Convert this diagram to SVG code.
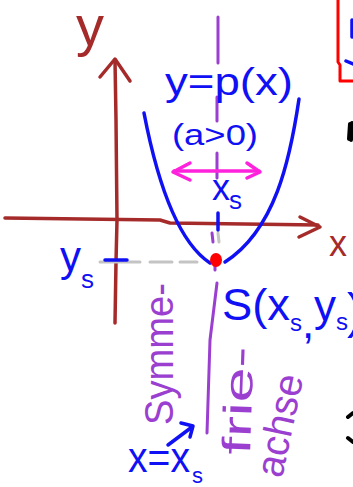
<svg xmlns="http://www.w3.org/2000/svg" width="353" height="487" viewBox="0 0 353 487">
<style>
  .ax{fill:none;stroke:#a52a2a;stroke-width:3.5;stroke-linecap:round;stroke-linejoin:round}
  .bl{fill:none;stroke:#1010f5;stroke-width:3.5;stroke-linecap:round;stroke-linejoin:round}
  .pu{fill:none;stroke:#9b3fd0;stroke-width:3;stroke-linecap:round;stroke-linejoin:round}
  .mg{fill:none;stroke:#ff22dd;stroke-width:3.5;stroke-linecap:round;stroke-linejoin:round}
  .gr{fill:none;stroke:#c4c4c4;stroke-width:3;stroke-linecap:round}
  .rd{fill:none;stroke:#ff0000;stroke-width:3;stroke-linejoin:round}
  .bk{fill:none;stroke:#000000;stroke-width:4;stroke-linecap:round}
  .t{font-family:"Liberation Sans","DejaVu Sans",sans-serif}
  .tb{fill:#1010f5}
  .tp{fill:#9b3fd0}
  .tr{fill:#a52a2a}
</style>
<rect width="353" height="487" fill="#ffffff"/>

<g id="connectors">
  <!-- y axis -->
  <path class="ax" d="M115,60 L116,120 L117,220 L116,262 L115,323"/>
  <path class="ax" d="M100,77 L115,59 L130,81"/>
  <!-- x axis -->
  <path class="ax" d="M5,218 L160,220 L170,223 L318,225"/>
  <path class="ax" d="M300,217 L320,227 L299,237"/>
  <!-- symmetry axis -->
  <path class="pu" d="M218,17 L218,63"/>
  <path class="pu" d="M217,97 L217,121"/>
  <path class="pu" d="M217,153 L217,178"/>
  <path class="pu" d="M212,233 L213,242"/>
  <path class="pu" d="M215,263 L215,270"/>
  <path class="pu" d="M217,283 L210,340 L207,433"/>
  <path class="gr" d="M218,233 L219,242"/>
  <!-- blue xs marker on x axis -->
  <path class="bl" d="M218,213 L218,230"/>
  <!-- grey dashed helper -->
  <path class="gr" d="M100,262 L140,262 M150,262 L172,262 M180,262 L197,262"/>
  <!-- blue ys tick -->
  <path class="bl" d="M105,260 L127,260"/>
  <!-- magenta double arrow -->
  <path class="mg" d="M174,171 L259,171"/>
  <path class="mg" d="M190,163 L173,172 L190,180"/>
  <path class="mg" d="M247,163 L260,172 L247,178"/>
  <!-- blue arrow to axis -->
  <path class="bl" d="M168,445 L192,427"/>
  <path class="bl" d="M181,423 L193,426 L190,437"/>
  <!-- red box fragment -->
  <path class="rd" d="M338,0 L338,62 L340,65 L340,81 L353,81"/>
  <!-- blue fragments inside box -->
  <path class="bl" d="M352,20 L352,37 M346,61 L353,64"/>
  <!-- black fragments -->
  <path class="bk" d="M350,124 L349,139 M352,123 L351,140"/>
  <path class="bk" d="M348,417 L353,413 M348,438 L353,442"/>
</g>

<g id="parabola">
  <path class="bl" d="M144,113 C155,170 175,240 210,263"/>
  <path class="bl" d="M299,99 C290,160 275,230 225,262"/>
</g>

<g id="vertex">
  <ellipse cx="216" cy="260" rx="6" ry="7" fill="#ff0000"/>
</g>

<g id="label-y-axis">
  <text class="t tr" x="76" y="45" font-size="56" textLength="28" lengthAdjust="spacingAndGlyphs">y</text>
</g>
<g id="label-x-axis">
  <text class="t tr" x="329" y="256" font-size="36">x</text>
</g>

<g id="label-function">
  <text class="t tb" x="165" y="95" font-size="38" textLength="128" lengthAdjust="spacingAndGlyphs">y=p(x)</text>
  <text class="t tb" x="172" y="145" font-size="30" textLength="86" lengthAdjust="spacingAndGlyphs">(a&gt;0)</text>
</g>

<g id="label-xs">
  <text class="t tb"><tspan x="212" y="200" font-size="36">x</tspan><tspan x="229" y="209" font-size="26">s</tspan></text>
</g>

<g id="label-ys">
  <text class="t tb"><tspan x="60" y="271" font-size="42">y</tspan><tspan x="81" y="288" font-size="26">s</tspan></text>
</g>

<g id="label-vertex">
  <text class="t tb"><tspan x="222" y="320" font-size="44" textLength="68" lengthAdjust="spacingAndGlyphs">S(x</tspan><tspan x="290" y="331" font-size="24">s</tspan><tspan x="302" y="338" font-size="44">,</tspan><tspan x="314" y="321" font-size="44">y</tspan><tspan x="336" y="330" font-size="24">s</tspan><tspan x="347" y="328" font-size="50">)</tspan></text>
</g>

<g id="label-symmetry">
  <text class="t tp" font-size="40" transform="translate(173,425) rotate(-90)" textLength="142" lengthAdjust="spacingAndGlyphs">Symme-</text>
  <text class="t tp" font-size="40" transform="translate(250,455) rotate(-88)" textLength="108" lengthAdjust="spacingAndGlyphs">frie-</text>
  <text class="t tp" font-size="40" transform="translate(282,479) rotate(-78)" textLength="104" lengthAdjust="spacingAndGlyphs">achse</text>
</g>

<g id="label-equation">
  <text class="t tb"><tspan x="128" y="472" font-size="42" textLength="62" lengthAdjust="spacingAndGlyphs">x=x</tspan><tspan x="192" y="483" font-size="22">s</tspan></text>
</g>
</svg>
